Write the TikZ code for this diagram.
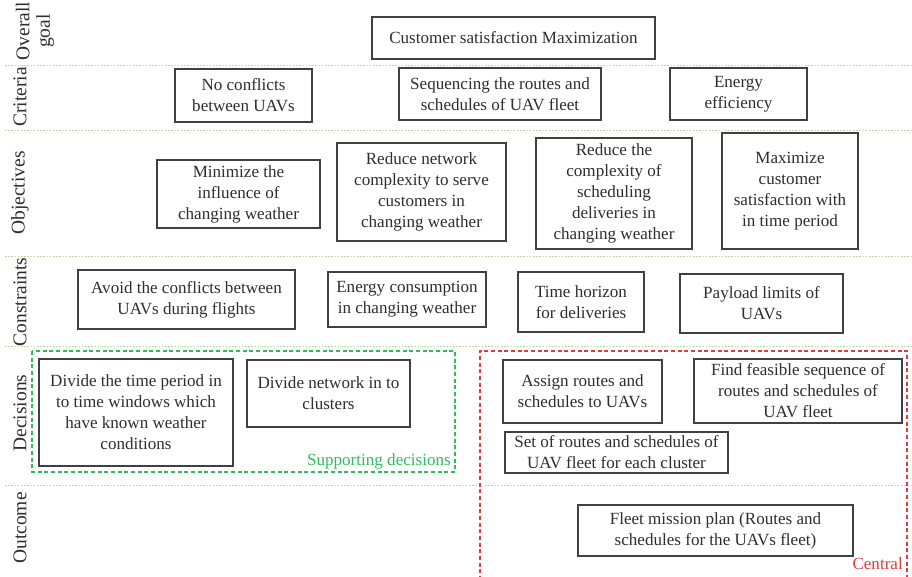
\documentclass[tikz,border=0pt]{standalone}
\usepackage{fontspec}
\setmainfont{Liberation Serif}
\definecolor{boxline}{HTML}{404040}
\definecolor{boxtext}{HTML}{2E2E2E}
\definecolor{sepgreen}{HTML}{B9DCA0}
\definecolor{supgreen}{HTML}{2DBE5A}
\definecolor{cenred}{HTML}{E03A3A}
\tikzset{
  box/.style={draw=boxline, line width=0.85pt, inner sep=0pt, align=center,
    text=boxtext, font=\fontsize{12.8}{15.8}\selectfont},
  rowlabel/.style={rotate=90, align=center, text=boxtext, inner sep=0pt,
    font=\fontsize{14.6}{15.5}\selectfont},
  separator/.style={draw=sepgreen, line width=0.6pt, dash pattern=on 1.2pt off 1.2pt},
  groupgreen/.style={draw=supgreen, line width=0.8pt, dash pattern=on 3pt off 2pt},
  groupred/.style={draw=cenred, line width=0.8pt, dash pattern=on 3pt off 2pt},
}
% \pbox{name}{left}{top}{right}{bottom}{text}, coordinates in pixel units
\newcommand\pbox[6]{%
  \node[box, minimum width={(#4-#2)*0.75pt}, minimum height={(#5-#3)*0.75pt}]
    (#1) at ({(#2+#4)/2},{(#3+#5)/2}) {#6};}
\begin{document}
\begin{tikzpicture}[x=0.75pt, y=-0.75pt]
\useasboundingbox (0,0) rectangle (912,576);

% row separators
\foreach \yy/\nm in {65/s1,130/s2,256/s3,346/s4,485/s5}{
  \coordinate (\nm a) at (5,\yy);
  \coordinate (\nm b) at (912,\yy);
  \draw[separator] (\nm a) -- (\nm b);
}

% row labels
\node[rowlabel] (lgoal) at (35,31) {Overall\\goal};
\node[rowlabel] (lcrit) at (20,97) {Criteria};
\node[rowlabel] (lobj)  at (20,193) {Objectives};
\node[rowlabel] (lcons) at (20,302) {Constraints};
\node[rowlabel] (ldec)  at (20,413) {Decisions};
\node[rowlabel] (lout)  at (20,528) {Outcome};

% overall goal
\pbox{goal}{372}{17}{655}{59}{Customer satisfaction Maximization}

% criteria
\pbox{crit1}{175}{69}{312}{122}{No conflicts\\between UAVs}
\pbox{crit2}{399}{68}{601}{120}{Sequencing the routes and\\schedules of UAV fleet}
\pbox{crit3}{670}{68}{807}{120}{Energy\\efficiency}

% objectives
\pbox{obj1}{157}{160}{320}{228}{Minimize the\\influence of\\changing weather}
\pbox{obj2}{337}{143}{506}{241}{Reduce network\\complexity to serve\\customers in\\changing weather}
\pbox{obj3}{536}{138}{692}{249}{Reduce the\\complexity of\\scheduling\\deliveries in\\changing weather}
\pbox{obj4}{722}{133}{858}{249}{Maximize\\customer\\satisfaction with\\in time period}

% constraints
\pbox{con1}{78}{270}{295}{329}{Avoid the conflicts between\\UAVs during flights}
\pbox{con2}{328}{272}{486}{327}{Energy consumption\\in changing weather}
\pbox{con3}{518}{272}{644}{332}{Time horizon\\for deliveries}
\pbox{con4}{680}{274}{843}{333}{Payload limits of\\UAVs}

% supporting decisions group
\coordinate (sgA) at (32,351);
\coordinate (sgB) at (455,472);
\draw[groupgreen] (sgA) rectangle (sgB);
\node[anchor=east, text=supgreen, inner sep=0pt, font=\fontsize{12.8}{15.8}\selectfont]
  (suplabel) at (451,461) {Supporting decisions};
\pbox{dec1}{39}{359}{233}{466}{Divide the time period in\\to time windows which\\have known weather\\conditions}
\pbox{dec2}{247}{360}{410}{427}{Divide network in to\\clusters}

% central group (open at the bottom edge)
\coordinate (cgA) at (480,580);
\coordinate (cgB) at (480,351);
\coordinate (cgC) at (907,351);
\coordinate (cgD) at (907,580);
\draw[groupred] (cgA) -- (cgB) -- (cgC) -- (cgD);
\node[anchor=east, text=cenred, inner sep=0pt, font=\fontsize{12.8}{15.8}\selectfont]
  (cenlabel) at (903,564) {Central};
\pbox{dec3}{503}{360}{662}{423}{Assign routes and\\schedules to UAVs}
\pbox{dec4}{694}{359}{902}{423}{Find feasible sequence of\\routes and schedules of\\UAV fleet}
\pbox{dec5}{505}{432}{728}{473}{Set of routes and schedules of\\UAV fleet for each cluster}

% outcome
\pbox{out1}{578}{505}{853}{556}{Fleet mission plan (Routes and\\schedules for the UAVs fleet)}
\end{tikzpicture}
\end{document}
